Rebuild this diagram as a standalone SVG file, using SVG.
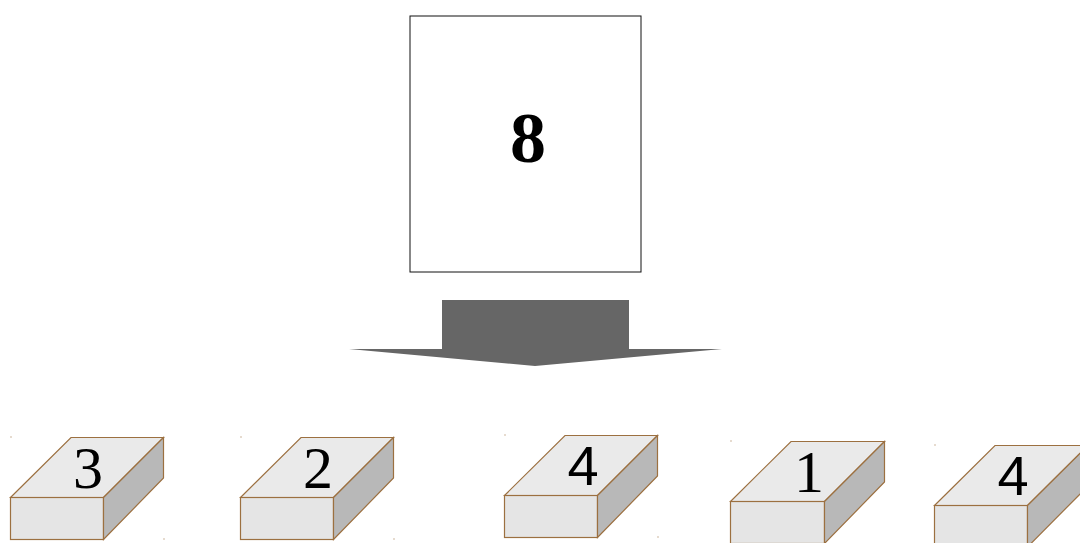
<svg xmlns="http://www.w3.org/2000/svg" width="1080" height="543" viewBox="0 0 1080 543">
<style>
.top{fill:#eaeaea;stroke:#9c7040;stroke-width:1.2}
.front{fill:#e5e5e5;stroke:#9c7040;stroke-width:1.2}
.side{fill:#b8b8b8;stroke:#9c7040;stroke-width:1.2}
.serif{font-family:"Liberation Serif",serif;font-size:60px;fill:#000;text-anchor:middle}
.sans{font-family:"Liberation Sans",sans-serif;font-size:56px;fill:#000;text-anchor:middle}
.dot{fill:#9c7040}
</style>
<rect width="1080" height="543" fill="#fff"/>
<g id="source">
<rect x="410" y="16" width="231" height="256" fill="#fff" stroke="#111" stroke-width="1"/>
<text x="528" y="162" font-family="Liberation Serif, serif" font-weight="bold" font-size="72" text-anchor="middle">8</text>
</g>
<g id="connectors">
<path d="M442,300 H629 V349 H722 L535,366 L349,349 H442 Z" fill="#666"/>
</g>
<g id="block1">
<rect class="dot" x="10.5" y="436.5" width="1" height="1"/><rect class="dot" x="163.5" y="538.5" width="1" height="1"/>
<polygon class="top" points="10.5,497.5 71,437.5 163.5,437.5 103.5,497.5"/>
<rect class="front" x="10.5" y="497.5" width="93" height="42"/>
<polygon class="side" points="103.5,497.5 163.5,437.5 163.5,478 103.5,539.5"/>
<text class="serif" x="88" y="488">3</text>
</g>
<g id="block2">
<rect class="dot" x="240.5" y="436.5" width="1" height="1"/><rect class="dot" x="393.5" y="538.5" width="1" height="1"/>
<polygon class="top" points="240.5,497.5 301,437.5 393.5,437.5 333.5,497.5"/>
<rect class="front" x="240.5" y="497.5" width="93" height="42"/>
<polygon class="side" points="333.5,497.5 393.5,437.5 393.5,478 333.5,539.5"/>
<text class="serif" x="318" y="488">2</text>
</g>
<g id="block3">
<rect class="dot" x="504.5" y="434.5" width="1" height="1"/><rect class="dot" x="657.5" y="536.5" width="1" height="1"/>
<polygon class="top" points="504.5,495.5 565,435.5 657.5,435.5 597.5,495.5"/>
<rect class="front" x="504.5" y="495.5" width="93" height="42"/>
<polygon class="side" points="597.5,495.5 657.5,435.5 657.5,476 597.5,537.5"/>
<text class="sans" x="583" y="485">4</text>
</g>
<g id="block4">
<rect class="dot" x="730.5" y="440.5" width="1" height="1"/>
<polygon class="top" points="730.5,501.5 791,441.5 884.5,441.5 824.5,501.5"/>
<rect class="front" x="730.5" y="501.5" width="94" height="42"/>
<polygon class="side" points="824.5,501.5 884.5,441.5 884.5,482 824.5,543.5"/>
<text class="serif" x="809" y="492">1</text>
</g>
<g id="block5">
<rect class="dot" x="934.5" y="444.5" width="1" height="1"/>
<polygon class="top" points="934.5,505.5 995,445.5 1088,445.5 1027.5,505.5"/>
<rect class="front" x="934.5" y="505.5" width="93" height="42"/>
<polygon class="side" points="1027.5,505.5 1088,445.5 1088,486 1027.5,547"/>
<text class="sans" x="1013" y="495">4</text>
</g>
</svg>
